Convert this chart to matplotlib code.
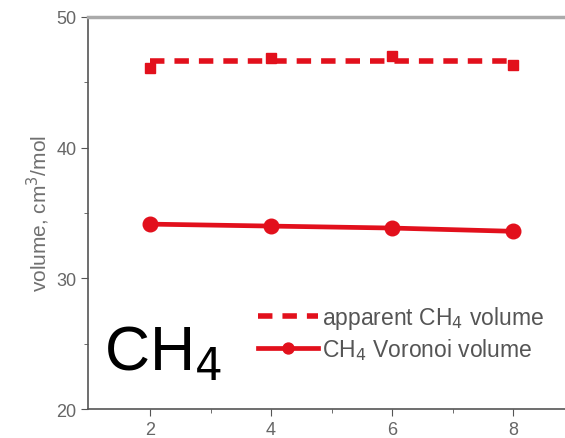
import numpy as np
import matplotlib
matplotlib.use("Agg")
import matplotlib.pyplot as plt

plt.rcParams['font.family'] = ['Liberation Sans', 'DejaVu Sans']

# data
x_vals = [2, 4, 6, 8]
apparent = [46.1, 46.9, 47.0, 46.3]
voronoi = [34.15, 34.0, 33.85, 33.6]
apparent_mean = 46.6

red = '#e2101c'

fig = plt.figure(figsize=(5.65, 4.39), dpi=100)
ax = fig.add_axes([0.156, 0.066, 0.844, 0.893])

ax.plot([x_vals[0], x_vals[-1]], [apparent_mean, apparent_mean], ls=(0, (2.6, 1.8)),
        color=red, lw=4, label='apparent CH$_4$ volume')
ax.plot(x_vals, apparent, 's', color=red, ms=7.5, ls='none')
ax.plot(x_vals, voronoi, '-o', color=red, lw=3.4, ms=10.5, label='CH$_4$ Voronoi volume')

ax.set_xlim(0.975, 8.86)
ax.set_ylim(20, 50)
ax.set_xticks([2, 4, 6, 8])
ax.set_xticks([3, 5, 7], minor=True)
ax.set_yticks([20, 30, 40, 50])
ax.set_yticks([25, 35, 45], minor=True)

for s in ['left', 'bottom']:
    ax.spines[s].set_color('#555555')
    ax.spines[s].set_linewidth(1.2)
ax.spines['top'].set_color('#aaaaaa')
ax.spines['top'].set_linewidth(2.5)
ax.spines['right'].set_visible(False)
ax.tick_params(which='both', direction='out', colors='#555555', labelcolor='#666666',
               labelsize=13)
ax.tick_params(which='major', length=5)
ax.tick_params(which='minor', length=3)

ax.set_ylabel('volume, cm$^3$/mol', fontsize=15, color='#707070', labelpad=3)

ax.text(1.23, 23.0, 'CH$_4$', fontsize=45, color='black')

leg = fig.legend(*ax.get_legend_handles_labels(), loc='center left',
                 bbox_to_anchor=(258 / 565, 1 - 334 / 439), frameon=False,
                 borderpad=0, borderaxespad=0, fontsize=16.5, handlelength=2.6,
                 handletextpad=0.2, labelspacing=0.2, markerscale=0.75)
for t in leg.get_texts():
    t.set_color('#555555')

fig.savefig('out.png', dpi=100)
